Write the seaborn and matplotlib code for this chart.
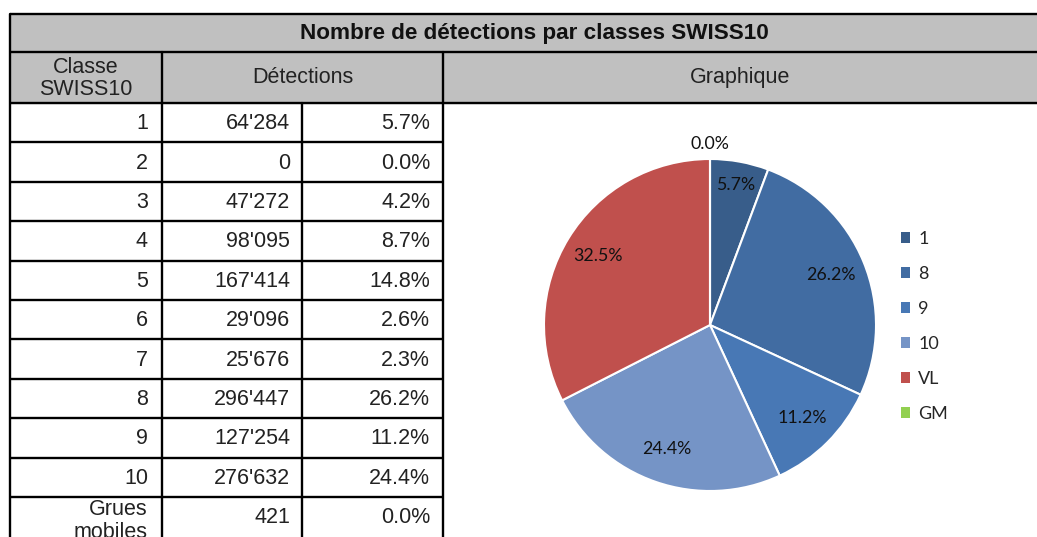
import matplotlib
matplotlib.use("Agg")
import matplotlib.pyplot as plt
from matplotlib.patches import Patch, Rectangle
import numpy as np
import seaborn as sns

# table data
classes = ["1", "2", "3", "4", "5", "6", "7", "8", "9", "10", "Grues\nmobiles"]
detections = [64284, 0, 47272, 98095, 167414, 29096, 25676, 296447, 127254, 276632, 421]
pourcentages = [5.7, 0.0, 4.2, 8.7, 14.8, 2.6, 2.3, 26.2, 11.2, 24.4, 0.0]

# pie data
pie_labels = ["1", "8", "9", "10", "VL", "GM"]
pie_values = [5.7, 26.2, 11.2, 24.4, 32.5, 0.0]
pie_colors = ["#385D8A", "#416CA2", "#4878B5", "#7594C6", "#C0504D", "#92D050"]

titre = "Nombre de détections par classes SWISS10"

sns.set_theme(style="white")
plt.rcParams["font.family"] = ["Liberation Sans", "DejaVu Sans"]

W, H = 1037, 537
fig = plt.figure(figsize=(W / 100, H / 100), dpi=100)
fig.patch.set_facecolor("white")

# full-figure axes in pixel coordinates for the table
tab = fig.add_axes([0, 0, 1, 1])
tab.set_xlim(0, W)
tab.set_ylim(H, 0)
tab.axis("off")

lw = 1.7
gris = "#C0C0C0"
x0, x1, x2, x3, xr = 10, 162, 302, 443, 1060
y_top, y_head, y_rows = 14, 52, 103
row_h = 39.4

tab.add_patch(Rectangle((x0, y_top), xr - x0, y_rows - y_top, color=gris, zorder=0))
for y in [y_top, y_head, y_rows]:
    tab.plot([x0, xr], [y, y], color="black", lw=lw, solid_capstyle="butt")
tab.plot([x0, x0], [y_top, H + 5], color="black", lw=lw)
for x in [x1, x3]:
    tab.plot([x, x], [y_head, H + 5], color="black", lw=lw)
tab.plot([x2, x2], [y_rows, H + 5], color="black", lw=lw)

fs = 15.5
tab.text((x0 + xr) / 2 - 1, (y_top + y_head) / 2, titre, ha="center", va="center",
         fontsize=16.2, fontweight="bold", color="#111111")
tab.text((x0 + x1) / 2, (y_head + y_rows) / 2 + 1, "Classe\nSWISS10", ha="center", va="center",
         fontsize=fs, color="#222222", linespacing=1.05)
tab.text((x1 + x3) / 2, (y_head + y_rows) / 2, "Détections", ha="center", va="center",
         fontsize=fs, color="#222222")
tab.text((x3 + W) / 2, (y_head + y_rows) / 2, "Graphique", ha="center", va="center",
         fontsize=fs, color="#222222")

for i, (c, d, p) in enumerate(zip(classes, detections, pourcentages)):
    yt = y_rows + i * row_h
    yc = yt + row_h / 2
    if i > 0:
        tab.plot([x0, x3], [yt, yt], color="black", lw=lw, solid_capstyle="butt")
    yl = yc + 1 if "\n" not in c else yc + 4
    tab.text(x1 - 14, yl, c, ha="right", va="center", fontsize=fs,
             color="#222222", linespacing=1.1)
    tab.text(x2 - 12, yc + 1, f"{d:,}".replace(",", "'"), ha="right", va="center",
             fontsize=fs, color="#222222")
    tab.text(x3 - 13, yc + 1, f"{p:.1f}%", ha="right", va="center",
             fontsize=fs, color="#222222")

# pie chart
cx, cy, r = 710, 325, 166
ax = fig.add_axes([(cx - r) / W, 1 - (cy + r) / H, 2 * r / W, 2 * r / H])
wedges, _, autotexts = ax.pie(
    pie_values, colors=pie_colors, startangle=90, counterclock=False,
    autopct=lambda v: f"{v:.1f}%", pctdistance=0.79,
    wedgeprops=dict(edgecolor="white", linewidth=1.5),
    textprops=dict(fontsize=12.8, family=["Lato", "DejaVu Sans"], color="#111111"),
)
dists = [0.86, 0.79, 0.79, 0.79, 0.79, 1.09]
for w, t, dd in zip(wedges, autotexts, dists):
    ang = np.deg2rad((w.theta1 + w.theta2) / 2)
    t.set_position((dd * np.cos(ang), dd * np.sin(ang)))
ax.set_xlim(-1, 1)
ax.set_ylim(-1, 1)
ax.set_aspect("equal")

handles = [Patch(facecolor=c, edgecolor="none") for c in pie_colors]
fig.legend(handles, pie_labels, loc="upper left", bbox_to_anchor=(892 / W, 1 - 222 / H),
           frameon=False, borderpad=0, handlelength=0.5, handleheight=0.5,
           handletextpad=0.45, labelspacing=1.05,
           prop=dict(family=["Lato", "DejaVu Sans"], size=13))

fig.savefig("out.png", dpi=100)
